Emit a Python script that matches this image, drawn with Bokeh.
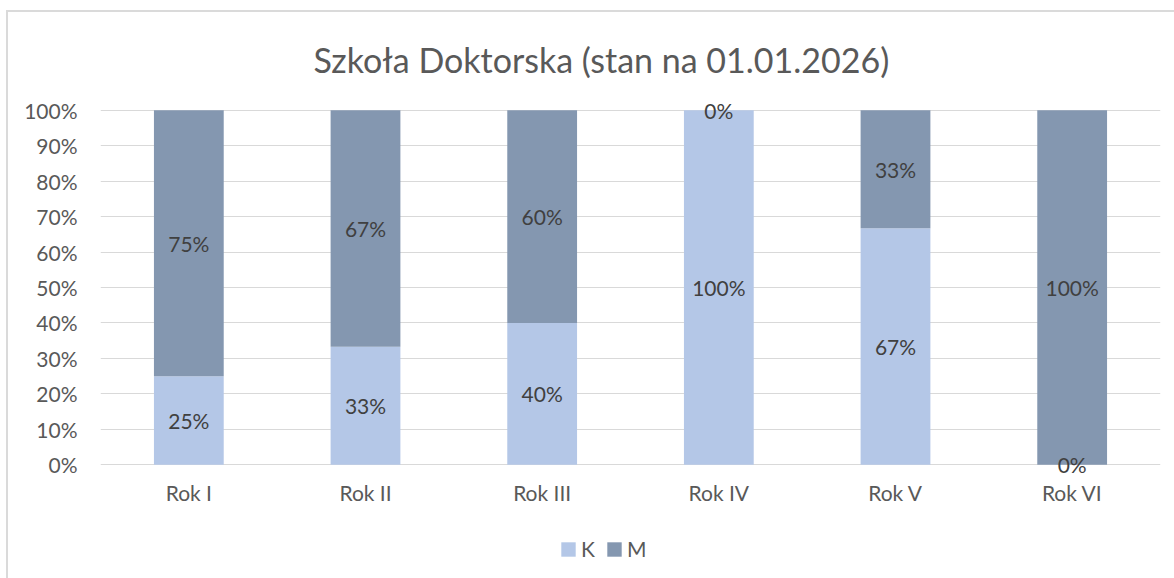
from bokeh.plotting import figure
from bokeh.layouts import column
from bokeh.models import ColumnDataSource, FactorRange, Range1d, Legend, LegendItem, NumeralTickFormatter, FixedTicker
from bokeh.core.properties import value
from bokeh.embed import file_html
from bokeh.resources import INLINE

categories = ["Rok I", "Rok II", "Rok III", "Rok IV", "Rok V", "Rok VI"]
k_share = [0.25, 0.3333, 0.40, 1.00, 0.6667, 0.00]
m_share = [0.75, 0.6667, 0.60, 0.00, 0.3333, 1.00]
series = ["K", "M"]
colors = ["#B4C7E7", "#8497B0"]

FONT = "Lato"
pad = 0.03

src = ColumnDataSource(dict(cat=categories, K=k_share, M=m_share))

p = figure(x_range=FactorRange(*categories, range_padding=0),
           y_range=Range1d(-pad, 1 + pad),
           width=1174, height=520, output_backend="svg", toolbar_location=None,
           min_border_left=100, min_border_right=14, min_border_top=99, min_border_bottom=45)
p.outline_line_color = None
p.border_fill_color = None
p.background_fill_color = "white"

renderers = p.vbar_stack(series, x="cat", width=0.395, color=colors, line_color=None, source=src)

# data labels
lab_x, lab_y, lab_t = [], [], []
for c, k, m in zip(categories, k_share, m_share):
    lab_x += [c, c]
    lab_y += [k / 2, k + m / 2]
    lab_t += [f"{round(k*100)}%", f"{round(m*100)}%"]
p.text(x=lab_x, y=lab_y, text=lab_t, text_align="center", text_baseline="middle",
       text_font=value(FONT), text_font_size="21px", text_color="#404040")

p.title.text = "Szkoła Doktorska (stan na 01.01.2026)"
p.title.align = "left"
p.title.offset = 213
p.title.standoff = 39
p.title.text_font = FONT
p.title.text_font_size = "34px"
p.title.text_font_style = "normal"
p.title.text_color = "#595959"

p.yaxis.ticker = FixedTicker(ticks=[i / 10 for i in range(11)])
p.yaxis.formatter = NumeralTickFormatter(format="0%")
p.yaxis.axis_line_color = None
p.yaxis.major_tick_line_color = None
p.yaxis.minor_tick_line_color = None
p.yaxis.major_label_standoff = 17
p.yaxis.major_label_text_font = FONT
p.yaxis.major_label_text_font_size = "21px"
p.yaxis.major_label_text_color = "#595959"

p.xaxis.axis_line_color = None
p.xaxis.major_tick_line_color = None
p.xaxis.major_label_standoff = -2
p.xaxis.major_label_text_font = FONT
p.xaxis.major_label_text_font_size = "21px"
p.xaxis.major_label_text_color = "#595959"

p.xgrid.grid_line_color = None
p.ygrid.grid_line_color = "#D9D9D9"
p.ygrid.grid_line_width = 1

# legend strip below the chart
lf = figure(width=1174, height=58, output_backend="svg", toolbar_location=None,
            x_range=Range1d(0, 1), y_range=Range1d(0, 1),
            x_axis_location=None, y_axis_location=None,
            min_border_left=0, min_border_right=0, min_border_top=0, min_border_bottom=0)
lf.outline_line_color = None
lf.border_fill_color = None
lf.background_fill_color = None
lf.xgrid.grid_line_color = None
lf.ygrid.grid_line_color = None
# swatch renderers kept outside the visible range; only their legend entries show
dummies = [lf.quad(left=[5], right=[6], top=[6], bottom=[5], fill_color=c, line_color=None) for c in colors]
legend = Legend(items=[LegendItem(label=s, renderers=[r]) for s, r in zip(series, dummies)],
                orientation="horizontal", location=(459, 17),
                glyph_width=18, glyph_height=18, label_width=0,
                label_text_font=FONT, label_text_font_size="21px",
                label_text_color="#595959", border_line_color=None, background_fill_alpha=0,
                padding=0, spacing=10, label_standoff=4, margin=0)
lf.add_layout(legend)

layout = column(p, lf, spacing=0)
layout.styles = {
    "background": "linear-gradient(#DADADA,#DADADA) 6px 10px / 2px 100% no-repeat, "
                  "linear-gradient(#DADADA,#DADADA) 6px 10px / 100% 2px no-repeat, white"
}
open("out.html", "w").write(file_html(layout, INLINE))
